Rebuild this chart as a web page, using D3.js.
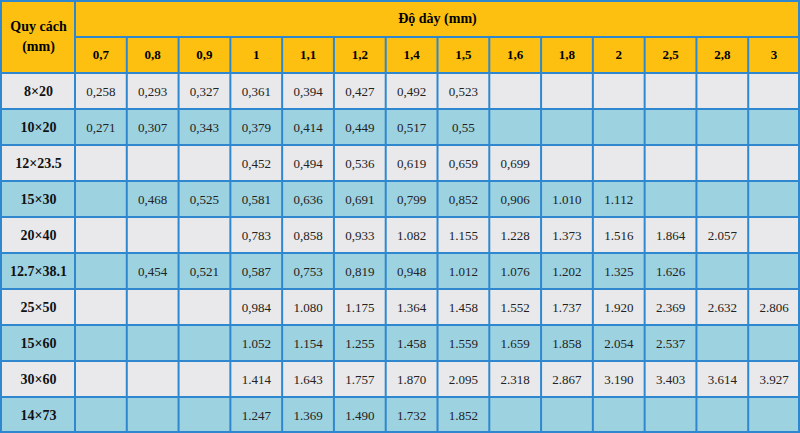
<!DOCTYPE html>
<html><head><meta charset="utf-8">
<script src="https://cdn.jsdelivr.net/npm/d3@7"></script>
<style>body{margin:0;background:#fff}</style>
</head><body><svg></svg>
<script>
const thicknesses = ['0,7', '0,8', '0,9', '1', '1,1', '1,2', '1,4', '1,5', '1,6', '1,8', '2', '2,5', '2,8', '3']
const specs = ['8×20', '10×20', '12×23.5', '15×30', '20×40', '12.7×38.1', '25×50', '15×60', '30×60', '14×73']
const weights = [
    ['0,258', '0,293', '0,327', '0,361', '0,394', '0,427', '0,492', '0,523', null, null, null, null, null, null],
    ['0,271', '0,307', '0,343', '0,379', '0,414', '0,449', '0,517', '0,55', null, null, null, null, null, null],
    [null, null, null, '0,452', '0,494', '0,536', '0,619', '0,659', '0,699', null, null, null, null, null],
    [null, '0,468', '0,525', '0,581', '0,636', '0,691', '0,799', '0,852', '0,906', '1.010', '1.112', null, null, null],
    [null, null, null, '0,783', '0,858', '0,933', '1.082', '1.155', '1.228', '1.373', '1.516', '1.864', '2.057', null],
    [null, '0,454', '0,521', '0,587', '0,753', '0,819', '0,948', '1.012', '1.076', '1.202', '1.325', '1.626', null, null],
    [null, null, null, '0,984', '1.080', '1.175', '1.364', '1.458', '1.552', '1.737', '1.920', '2.369', '2.632', '2.806'],
    [null, null, null, '1.052', '1.154', '1.255', '1.458', '1.559', '1.659', '1.858', '2.054', '2.537', null, null],
    [null, null, null, '1.414', '1.643', '1.757', '1.870', '2.095', '2.318', '2.867', '3.190', '3.403', '3.614', '3.927'],
    [null, null, null, '1.247', '1.369', '1.490', '1.732', '1.852', null, null, null, null, null, null]
]
const headTitle = 'Độ dày (mm)'
const cornerTitle = ['Quy cách', '(mm)']

const W = 800, H = 433
const firstW = 75, headH = 37
const yellow = '#fdc010', grey = '#e9e9eb', blue = '#9dd2e1', lineC = '#2f88cf'
const font = '"Liberation Serif", "DejaVu Serif", serif'

const svg = d3.select('svg').attr('width', W).attr('height', H)

const x = d3.scaleBand().domain(thicknesses).range([firstW, W])
const y = d3.scaleBand().domain(specs).range([headH * 2 - 1, H])

// header
svg.append('rect').attr('x', 0).attr('y', 0).attr('width', W).attr('height', y.range()[0]).attr('fill', yellow)
svg.append('text').attr('x', (firstW + W) / 2).attr('y', 23).attr('text-anchor', 'middle')
    .attr('font-family', font).attr('font-weight', 'bold').attr('font-size', 14).text(headTitle)
cornerTitle.forEach((t, i) => {
    svg.append('text').attr('x', firstW / 2 + 1).attr('y', 31 + i * 20).attr('text-anchor', 'middle')
        .attr('font-family', font).attr('font-weight', 'bold').attr('font-size', 14).text(t)
})
thicknesses.forEach(t => {
    svg.append('text').attr('x', x(t) + x.bandwidth() / 2).attr('y', headH + 22).attr('text-anchor', 'middle')
        .attr('font-family', font).attr('font-weight', 'bold').attr('font-size', 13).text(t)
})

// body rows
specs.forEach((s, r) => {
    const fill = r % 2 === 0 ? grey : blue
    svg.append('rect').attr('x', 0).attr('y', y(s)).attr('width', W).attr('height', y.bandwidth()).attr('fill', fill)
    svg.append('text').attr('x', firstW / 2 + 1).attr('y', y(s) + y.bandwidth() / 2 + 5).attr('text-anchor', 'middle')
        .attr('font-family', font).attr('font-weight', 'bold').attr('font-size', 14).attr('fill', '#111').text(s)
    weights[r].forEach((v, c) => {
        if (v === null) return
        svg.append('text').attr('x', x(thicknesses[c]) + x.bandwidth() / 2).attr('y', y(s) + y.bandwidth() / 2 + 5)
            .attr('text-anchor', 'middle').attr('font-family', font).attr('font-size', 13).attr('fill', '#222').text(v)
    })
})

// grid lines
const g = svg.append('g').attr('stroke', lineC).attr('stroke-width', 2)
g.append('line').attr('x1', firstW).attr('x2', firstW).attr('y1', 0).attr('y2', H)
g.append('line').attr('x1', firstW).attr('x2', W).attr('y1', headH).attr('y2', headH)
thicknesses.slice(1).forEach(t => g.append('line').attr('x1', x(t)).attr('x2', x(t)).attr('y1', headH).attr('y2', H))
specs.forEach(s => g.append('line').attr('x1', 0).attr('x2', W).attr('y1', y(s)).attr('y2', y(s)))
g.append('rect').attr('x', 1).attr('y', 1).attr('width', W - 2).attr('height', H - 2).attr('fill', 'none')
</script>
</body></html>
